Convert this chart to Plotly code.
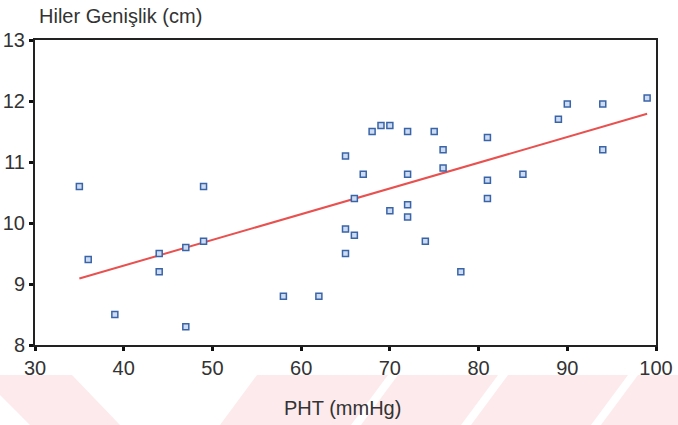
import plotly.graph_objects as go

# Data
pht = [35, 36, 39, 44, 44, 47, 47, 49, 49,
       58, 62, 65, 65, 65, 66, 66, 67, 68, 69, 70, 70,
       72, 72, 72, 72, 74, 75, 76, 76, 78,
       81, 81, 81, 85, 89, 90, 94, 94, 99]
hiler = [10.6, 9.4, 8.5, 9.5, 9.2, 9.6, 8.3, 10.6, 9.7,
         8.8, 8.8, 11.1, 9.9, 9.5, 10.4, 9.8, 10.8, 11.5, 11.6, 11.6, 10.2,
         11.5, 10.8, 10.3, 10.1, 9.7, 11.5, 11.2, 10.9, 9.2,
         11.4, 10.7, 10.4, 10.8, 11.7, 11.95, 11.95, 11.2, 12.05]
fit_x = [35, 99]
fit_y = [9.09, 11.79]
x_ticks = [30, 40, 50, 60, 70, 80, 90, 100]
y_ticks = [8, 9, 10, 11, 12, 13]

W, H = 678, 425
L, R, T, B = 35, 22, 40, 80
pw, ph = W - L - R, H - T - B

def px(x):
    return (x - L) / pw

def py(y):
    return (H - B - y) / ph

fig = go.Figure()
fig.add_trace(go.Scatter(x=fit_x, y=fit_y, mode="lines",
                         line=dict(color="#e8514f", width=2), hoverinfo="skip"))
fig.add_trace(go.Scatter(x=pht, y=hiler, mode="markers",
                         marker=dict(symbol="square", size=6, color="#cddcf2",
                                     line=dict(color="#3a64a8", width=1.5))))

# faint pink watermark bands at the bottom
pink = "#fdeaec"
bands = [
    [(0, 375), (72, 375), (120, 425), (30, 425), (0, 395)],
    [(257, 375), (388, 375), (351, 425), (220, 425)],
    [(398, 375), (498, 375), (461, 425), (361, 425)],
    [(508, 375), (628, 375), (591, 425), (471, 425)],
    [(638, 375), (678, 375), (678, 425), (601, 425)],
]
shapes = []
for poly in bands:
    path = "M " + " L ".join(f"{px(a):.4f},{py(b):.4f}" for a, b in poly) + " Z"
    shapes.append(dict(type="path", xref="paper", yref="paper", path=path,
                       fillcolor=pink, line=dict(width=0), layer="below"))

font = dict(family="Liberation Sans, Arial, sans-serif", size=20, color="#333333")

fig.update_layout(
    width=W, height=H,
    margin=dict(l=L, r=R, t=T, b=B),
    paper_bgcolor="white", plot_bgcolor="rgba(0,0,0,0)",
    showlegend=False,
    font=font,
    shapes=shapes,
    xaxis=dict(range=[30, 100], tickvals=x_ticks, showgrid=False, zeroline=False,
               showline=True, mirror=True, linecolor="#222222", linewidth=2,
               ticks="outside", ticklen=4, tickwidth=3, tickcolor="#111111",
               tickfont=font, automargin=False),
    yaxis=dict(range=[8, 13], tickvals=y_ticks, showgrid=False, zeroline=False,
               showline=True, mirror=True, linecolor="#222222", linewidth=2,
               ticks="outside", ticklen=4, tickwidth=3, tickcolor="#111111",
               tickfont=font, automargin=False, ticklabelstandoff=0),
    annotations=[
        dict(text="Hiler Genişlik (cm)", xref="paper", yref="paper",
             x=px(37), y=py(16), xanchor="left", yanchor="middle",
             showarrow=False, font=font),
        dict(text="PHT (mmHg)", xref="paper", yref="paper",
             x=px(342), y=py(408), xanchor="center", yanchor="middle",
             showarrow=False, font=font),
    ],
)

fig.write_html("out.html")
